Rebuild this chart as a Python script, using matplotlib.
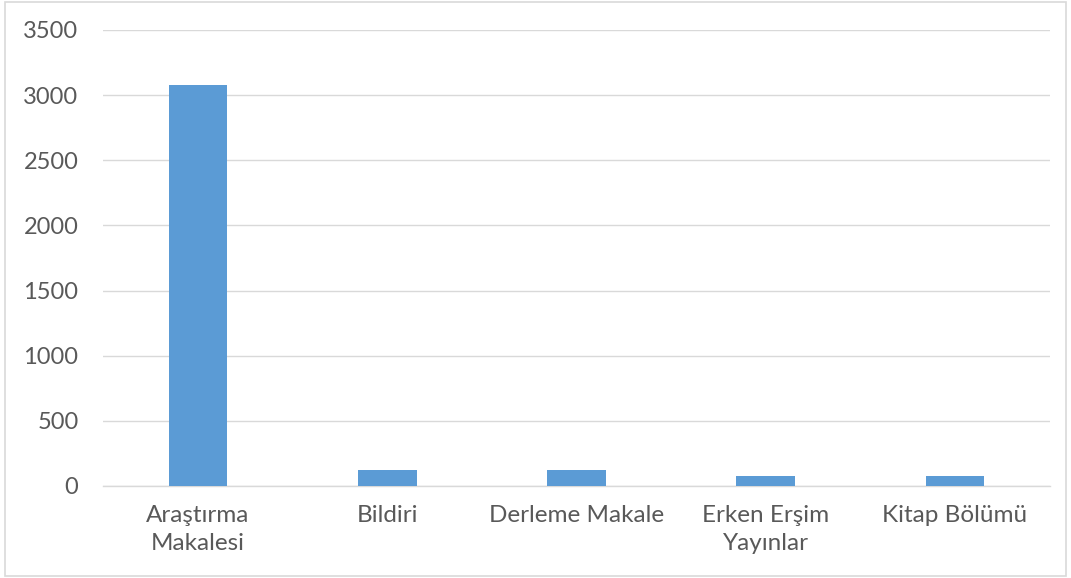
import matplotlib.pyplot as plt
from matplotlib.patches import Rectangle

categories = ["Araştırma\nMakalesi", "Bildiri", "Derleme Makale", "Erken Erşim\nYayınlar", "Kitap Bölümü"]
values = [3075, 125, 125, 80, 80]
y_ticks = [0, 500, 1000, 1500, 2000, 2500, 3000, 3500]

plt.rcParams['font.family'] = ['Lato', 'DejaVu Sans']

fig = plt.figure(figsize=(10.71, 5.78), dpi=100)
ax = fig.add_axes([0.0966, 0.1592, 0.8834, 0.7889])

x = range(len(categories))
ax.bar(x, values, width=0.31, color='#5b9bd5', zorder=3)

ax.set_xlim(-0.5, len(categories) - 0.5)
ax.set_ylim(0, 3500)
ax.set_yticks(y_ticks)
ax.set_xticks(list(x))
ax.set_xticklabels(categories, fontsize=17.5, color='#595959', linespacing=1.38)
ax.tick_params(axis='y', labelsize=17, labelcolor='#595959', length=0, pad=18)
ax.tick_params(axis='x', length=0, pad=14)

ax.grid(axis='y', color='#d9d9d9', linewidth=1, zorder=0)
for s in ['top', 'right', 'left']:
    ax.spines[s].set_visible(False)
ax.spines['bottom'].set_color('#d9d9d9')
ax.spines['bottom'].set_linewidth(1)

# рамка вокруг всей картинки
fig.patches.append(Rectangle((0.005, 0.004), 0.99, 0.992, transform=fig.transFigure,
                             fill=False, edgecolor='#d9d9d9', linewidth=1.2))

plt.savefig('out.png', dpi=100)
